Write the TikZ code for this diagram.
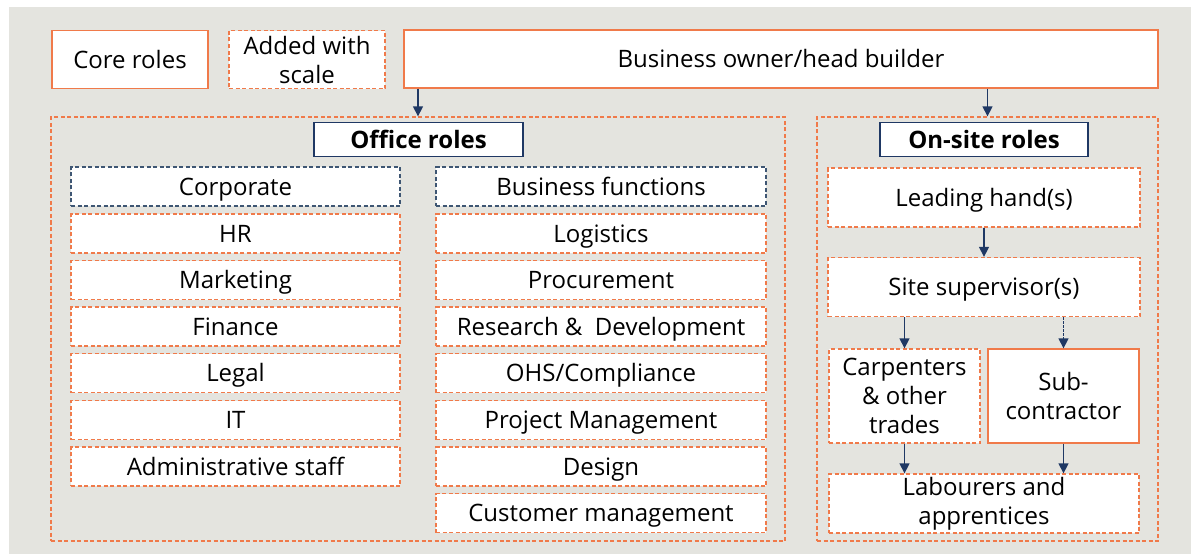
\documentclass[tikz,border=0pt]{standalone}
\usepackage{fontspec}
\setmainfont{Open Sans}
\usepackage{tikz}
\usetikzlibrary{arrows.meta,positioning}
\definecolor{zeminGri}{HTML}{E4E4DF}
\definecolor{cizgiTuruncu}{HTML}{F07A4A}
\definecolor{koyuLacivert}{HTML}{1F3864}
\definecolor{grupLacivert}{HTML}{3E5673}

\begin{document}
\begin{tikzpicture}[x=1pt, y=-1pt,
  every node/.style={font=\fontsize{24}{29}\selectfont, align=center, inner sep=0pt,
                     text height=22pt, text depth=5pt},
  cok/.style={text height={}, text depth={}},
  temel/.style={draw=cizgiTuruncu, fill=white, line width=1.3pt},
  ekli/.style={temel, dash pattern=on 4pt off 2.5pt},
  baslik/.style={draw=koyuLacivert, fill=white, line width=1.3pt, font=\fontsize{24}{29}\selectfont\bfseries},
  grup/.style={draw=grupLacivert, fill=white, line width=1.3pt, dash pattern=on 4pt off 2.5pt},
  alan/.style={draw=cizgiTuruncu, line width=1.3pt, dash pattern=on 4pt off 2.5pt},
  ok/.style={-{Triangle[width=10pt,length=10pt]}, koyuLacivert, line width=1.3pt}]
% zemin
\fill[white] (0,0) rectangle (1191,554);
\fill[zeminGri] (9,7) rectangle (1191,554);
\useasboundingbox (0,0) rectangle (1191,554);
% ust satir
\node[temel, minimum width=156pt, minimum height=58pt] (cekirdek) at (130,59.5) {Core roles};
\node[ekli, cok, minimum width=156pt, minimum height=58pt] (ekrol) at (307,59.5) {Added with\\scale};
\node[temel, minimum width=754pt, minimum height=58pt] (sahip) at (781,59) {Business owner/head builder};
% alanlar
\node[alan, minimum width=734pt, minimum height=424pt] (ofis) at (418,329) {};
\node[alan, minimum width=341pt, minimum height=424pt] (saha) at (987.5,329) {};
\node[baslik, minimum width=209pt, minimum height=34pt] (ofisB) at (418.5,139.5) {Office roles};
\node[baslik, minimum width=208pt, minimum height=34pt] (sahaB) at (984,139.5) {On-site roles};
% ofis - sol sutun
\node[grup, minimum width=329pt, minimum height=39pt] (kurum) at (235.5,186.5) {Corporate};
\node[ekli, minimum width=329pt, minimum height=39pt] (ik) at (235.5,233.5) {HR};
\node[ekli, minimum width=329pt, minimum height=39pt] (pazar) at (235.5,280) {Marketing};
\node[ekli, minimum width=329pt, minimum height=39pt] (finans) at (235.5,326.5) {Finance};
\node[ekli, minimum width=329pt, minimum height=39pt] (hukuk) at (235.5,373) {Legal};
\node[ekli, minimum width=329pt, minimum height=39pt] (bt) at (235.5,420) {IT};
\node[ekli, minimum width=329pt, minimum height=39pt] (idari) at (235.5,466.5) {Administrative staff};
% ofis - sag sutun
\node[grup, minimum width=330pt, minimum height=39pt] (isfon) at (601,186.5) {Business functions};
\node[ekli, minimum width=330pt, minimum height=39pt] (lojistik) at (601,233.5) {Logistics};
\node[ekli, minimum width=330pt, minimum height=39pt] (satin) at (601,280) {Procurement};
\node[ekli, minimum width=330pt, minimum height=39pt] (arge) at (601,326.5) {Research \&~ Development};
\node[ekli, minimum width=330pt, minimum height=39pt] (isg) at (601,373) {OHS/Compliance};
\node[ekli, minimum width=330pt, minimum height=39pt] (proje) at (601,420) {Project Management};
\node[ekli, minimum width=330pt, minimum height=39pt] (tasarim) at (601,466.5) {Design};
\node[ekli, minimum width=330pt, minimum height=39pt] (musteri) at (601,513) {Customer management};
% saha
\node[ekli, minimum width=312pt, minimum height=59pt] (usta) at (984,197.5) {Leading hand(s)};
\node[ekli, minimum width=312pt, minimum height=59pt] (sef) at (984,287) {Site supervisor(s)};
\node[ekli, cok, minimum width=151pt, minimum height=94pt] (marangoz) at (904.5,396) {Carpenters\\\& other\\trades};
\node[temel, cok, minimum width=151pt, minimum height=94pt] (taseron) at (1063.5,396) {Sub-\\contractor};
\node[ekli, cok, minimum width=310pt, minimum height=59pt] (isci) at (984,503.5) {Labourers and\\apprentices};
% oklar
\draw[ok] (ofis.north |- sahip.south) -- (ofis.north);
\draw[ok] (saha.north |- sahip.south) -- (saha.north);
\draw[ok] (usta) -- (sef);
\draw[ok] (marangoz.north |- sef.south) -- (marangoz.north);
\draw[ok, dash pattern=on 2.5pt off 1.5pt] (taseron.north |- sef.south) -- (taseron.north);
\draw[ok] (marangoz.south) -- (marangoz.south |- isci.north);
\draw[ok] (taseron.south) -- (taseron.south |- isci.north);
\end{tikzpicture}
\end{document}
